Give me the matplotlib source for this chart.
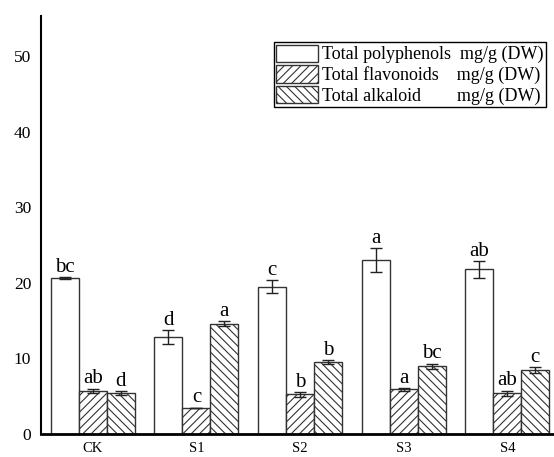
import matplotlib
matplotlib.use('Agg')
import matplotlib.pyplot as plt
import numpy as np

# groups and measured contents, mg/g dry weight
groups = ['CK', 'S1', 'S2', 'S3', 'S4']
polyphenols = [20.6, 12.8, 19.5, 23.0, 21.8]
polyphenols_err = [0.15, 0.95, 0.85, 1.6, 1.1]
flavonoids = [5.7, 3.45, 5.25, 5.9, 5.4]
flavonoids_err = [0.3, 0.05, 0.3, 0.15, 0.35]
alkaloid = [5.4, 14.6, 9.5, 8.95, 8.45]
alkaloid_err = [0.3, 0.3, 0.25, 0.35, 0.4]
# significance letters
poly_sig = ['bc', 'd', 'c', 'a', 'ab']
flav_sig = ['ab', 'c', 'b', 'a', 'ab']
alk_sig = ['d', 'a', 'b', 'bc', 'c']

names = ['Total polyphenols  mg/g (DW)',
         'Total flavonoids    mg/g (DW)',
         'Total alkaloid        mg/g (DW)']

plt.rcParams['font.family'] = 'Liberation Serif'
plt.rcParams['hatch.linewidth'] = 0.8

fig = plt.figure(figsize=(5.54, 4.57), dpi=100)
ax = fig.add_axes([41 / 554, 23 / 457, 513 / 554, 418 / 457])

x = np.arange(len(groups))
w = 0.27
series = [
    (polyphenols, polyphenols_err, poly_sig, '', -w),
    (flavonoids, flavonoids_err, flav_sig, '////', 0),
    (alkaloid, alkaloid_err, alk_sig, '\\\\\\\\', w),
]
for (vals, errs, sig, hatch, off), name in zip(series, names):
    ax.bar(x + off, vals, w, color='white', edgecolor='#333333', linewidth=1.0,
           hatch=hatch, label=name)
    ax.errorbar(x + off, vals, yerr=errs, fmt='none', ecolor='#222222',
                elinewidth=1.0, capsize=4, capthick=1.0)
    for xi, v, e, s in zip(x + off, vals, errs, sig):
        ax.text(xi, v + e + 0.05, s, ha='center', va='bottom', fontsize=15)

ax.set_xlim(-0.5, 4.45)
ax.set_ylim(0, 55.3)
ax.set_yticks([0, 10, 20, 30, 40, 50])
ax.set_xticks(x)
ax.set_xticklabels(groups)
ax.tick_params(axis='y', length=0, labelsize=12.5, pad=7)
ax.tick_params(axis='x', length=0, labelsize=10.5, pad=6)
for s in ['top', 'right']:
    ax.spines[s].set_visible(False)
ax.spines['left'].set_linewidth(1.5)
ax.spines['bottom'].set_linewidth(2)

leg = ax.legend(loc='upper right', bbox_to_anchor=(0.984, 0.937), fontsize=13,
                handlelength=2.3, handleheight=1.1, labelspacing=0.1,
                borderpad=0.12, handletextpad=0.25, borderaxespad=0,
                fancybox=False, framealpha=1)
leg.get_frame().set_edgecolor('black')
leg.get_frame().set_linewidth(1.0)

fig.savefig('out.png', dpi=100)
